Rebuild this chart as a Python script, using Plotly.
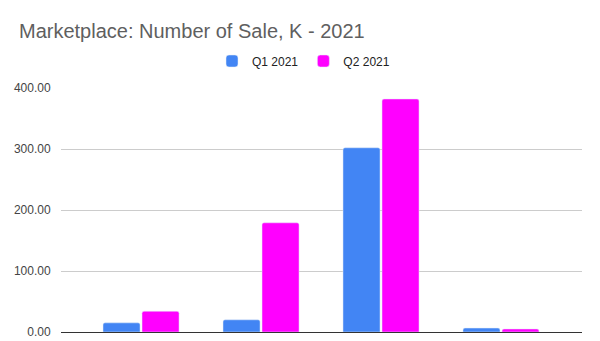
import plotly.graph_objects as go

categories = ["Marketplace A", "Marketplace B", "Marketplace C", "Marketplace D"]
q1_2021 = [15.0, 20.0, 302.0, 6.5]
q2_2021 = [34.0, 179.0, 382.0, 5.0]
y_ticks = [0, 100, 200, 300, 400]

fig = go.Figure()
fig.add_trace(go.Bar(x=categories, y=q1_2021, name="Q1 2021", marker_color="#4285F4"))
fig.add_trace(go.Bar(x=categories, y=q2_2021, name="Q2 2021", marker_color="#FF00FF"))

fig.update_layout(
    width=600, height=341,
    margin=dict(l=61, r=18, t=88, b=9, autoexpand=False),
    paper_bgcolor="white", plot_bgcolor="white",
    font=dict(family="Liberation Sans, Arial, sans-serif", color="#444444", size=12),
    title=dict(text="Marketplace: Number of Sale, K - 2021", x=19/600, xref="container", xanchor="left",
               y=1-31/341, yref="container", yanchor="middle",
               font=dict(size=20, color="#5f5f5f")),
    barmode="group", bargap=0.35, bargroupgap=0.05, barcornerradius=2,
    legend=dict(orientation="h", x=0.5 - 18/521, xanchor="center",
                y=1+27/244, yanchor="middle", font=dict(size=12, color="#222222")),
    showlegend=True,
)
fig.update_xaxes(range=[-0.667, 3.675], showticklabels=False, showgrid=False, zeroline=False,
                 showline=False)
fig.update_yaxes(range=[0, 400], tickvals=y_ticks, tickformat=".2f", showgrid=True,
                 gridcolor="#cccccc", gridwidth=1, zeroline=True, zerolinecolor="#333333",
                 zerolinewidth=1, ticks="outside", ticklen=7, tickcolor="rgba(0,0,0,0)",
                 tickfont=dict(size=12, color="#444444"))
fig.write_html("out.html")
